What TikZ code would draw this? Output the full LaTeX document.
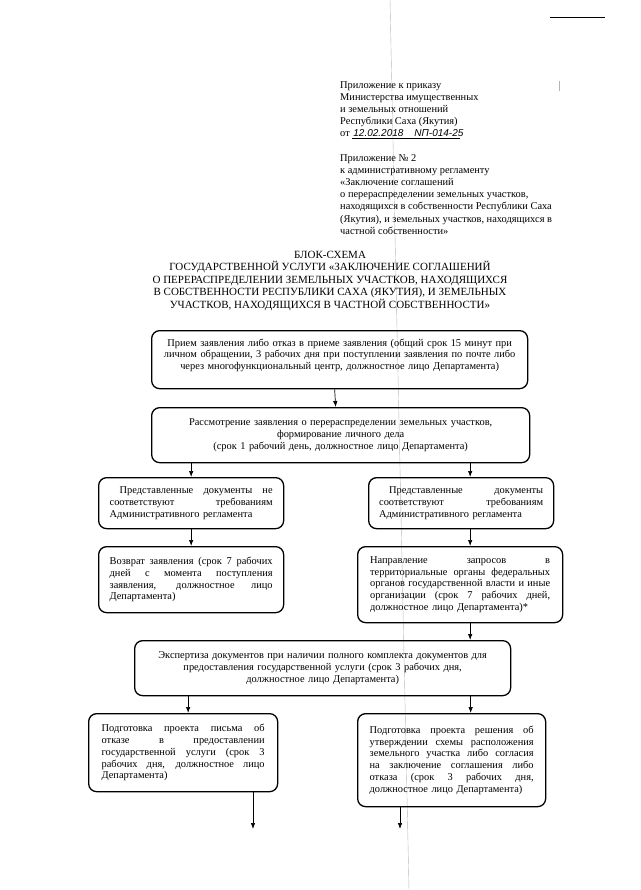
\documentclass[tikz,border=0pt]{standalone}
\usepackage{fontspec}
\setmainfont{Liberation Serif}
\newfontfamily\handfont{Liberation Sans}
\usetikzlibrary{arrows.meta}
\newcommand{\jline}[1]{\makebox[\hsize][s]{\spaceskip=0pt\xspaceskip=0pt #1}}
\begin{document}
\begin{tikzpicture}[x=1pt,y=-1pt,>={Latex[length=6pt,width=4.5pt]},
    txt/.style={inner sep=0pt,font=\fontsize{10.4}{12.2}\selectfont},
    box/.style={draw,line width=1.3pt,rounded corners=8pt,inner sep=0pt,anchor=north west,font=\fontsize{10.4}{11.8}\selectfont},
    flow/.style={->,line width=0.7pt}]
    \useasboundingbox[fill=white] (0,0) rectangle (640,890);
    \draw[gray!55,line width=0.4pt] (390,0) -- (409,890);
    \draw[line width=0.8pt] (550,17) -- (605,17);
    \draw[gray!60,line width=0.6pt] (559,81) -- (559,91);
    \node[txt,anchor=north west,align=left] (prikaz) at (340,81) {Приложение к приказу\\Министерства имущественных\\и земельных отношений\\Республики Саха (Якутия)\\от \underline{\makebox[108pt][l]{\handfont\itshape\fontsize{10}{12}\selectfont\hspace{1pt}12.02.2018\hspace{11pt}NП-014-25}}};
    \node[txt,anchor=north west,align=left] (prilozh) at (340,154) {Приложение № 2\\к административному регламенту\\«Заключение соглашений\\о перераспределении земельных участков,\\находящихся в собственности Республики Саха\\(Якутия), и земельных участков, находящихся в\\частной собственности»};
    \node[txt,anchor=north,align=center,font=\fontsize{11}{12.4}\selectfont] (title) at (330,251) {БЛОК-СХЕМА\\ГОСУДАРСТВЕННОЙ УСЛУГИ «ЗАКЛЮЧЕНИЕ СОГЛАШЕНИЙ\\О ПЕРЕРАСПРЕДЕЛЕНИИ ЗЕМЕЛЬНЫХ УЧАСТКОВ, НАХОДЯЩИХСЯ\\В СОБСТВЕННОСТИ РЕСПУБЛИКИ САХА (ЯКУТИЯ), И ЗЕМЕЛЬНЫХ\\УЧАСТКОВ, НАХОДЯЩИХСЯ В ЧАСТНОЙ СОБСТВЕННОСТИ»};
    \node[box,minimum width=376pt,minimum height=58pt,text width=366pt,align=center] (priem) at (151,330) {Прием заявления либо отказ в приеме заявления (общий срок 15 минут при\\личном обращении, 3 рабочих дня при поступлении заявления по почте либо\\через многофункциональный центр, должностное лицо Департамента)\rule[-11pt]{0pt}{0pt}};
    \node[box,minimum width=378pt,minimum height=55pt,text width=366pt,align=center] (rassm) at (151,407) {Рассмотрение заявления о перераспределении земельных участков,\\формирование личного дела\\(срок 1 рабочий день, должностное лицо Департамента)};
    \node[box,minimum width=185pt,minimum height=51pt,text width=163pt,align=left] (nesoot) at (98,477) {\jline{\hspace{10pt}Представленные документы не}\\\jline{соответствуют требованиям}\\Административного регламента};
    \node[box,minimum width=185pt,minimum height=51pt,text width=164pt,align=left] (soot) at (368,477) {\jline{\hspace{10pt}Представленные документы}\\\jline{соответствуют требованиям}\\Административного регламента};
    \node[box,minimum width=185pt,minimum height=66pt,text width=163pt,align=left] (vozvrat) at (98,546) {\jline{Возврат заявления (срок 7 рабочих}\\\jline{дней с момента поступления}\\\jline{заявления, должностное лицо}\\Департамента)};
    \node[box,minimum width=205pt,minimum height=76pt,text width=180pt,align=left] (napr) at (357,546) {\jline{Направление запросов в}\\\jline{территориальные органы федеральных}\\\jline{органов государственной власти и иные}\\\jline{организации (срок 7 рабочих дней,}\\должностное лицо Департамента)*};
    \node[box,minimum width=376pt,minimum height=55pt,text width=366pt,align=center] (ekspert) at (134,640) {Экспертиза документов при наличии полного комплекта документов для\\предоставления государственной услуги (срок 3 рабочих дня,\\должностное лицо Департамента)};
    \node[box,minimum width=189pt,minimum height=78pt,text width=163pt,align=left] (otkaz) at (88,713) {\jline{Подготовка проекта письма об}\\\jline{отказе в предоставлении}\\\jline{государственной услуги (срок 3}\\\jline{рабочих дня, должностное лицо}\\Департамента)};
    \node[box,minimum width=188pt,minimum height=93pt,text width=164pt,align=left] (reshenie) at (357,713) {\jline{Подготовка проекта решения об}\\\jline{утверждении схемы расположения}\\\jline{земельного участка либо согласия}\\\jline{на заключение соглашения либо}\\\jline{отказа (срок 3 рабочих дня,}\\должностное лицо Департамента)};
    \coordinate (s1) at ([xshift=9pt]soot.north);
    \coordinate (s2) at ([xshift=10pt]napr.south);
    \coordinate (s3) at ([xshift=5pt]otkaz.north);
    \coordinate (s4) at ([xshift=19pt]reshenie.north);
    \coordinate (endL) at (253,829);
    \coordinate (endR) at (400,829);
    \draw[flow] ([xshift=-5pt]priem.south) -- ([xshift=-5pt]rassm.north);
    \draw[flow] (rassm.south -| nesoot.north) -- (nesoot.north);
    \draw[flow] (rassm.south -| s1) -- (s1);
    \draw[flow] (nesoot.south) -- (vozvrat.north);
    \draw[flow] (soot.south -| s1) -- (napr.north -| s1);
    \draw[flow] (s2) -- (s2 |- ekspert.north);
    \draw[flow] (ekspert.south -| s3) -- (s3);
    \draw[flow] (ekspert.south -| s4) -- (s4);
    \draw[flow] (otkaz.south -| endL) -- (endL);
    \draw[flow] (reshenie.south -| endR) -- (endR);
\end{tikzpicture}
\end{document}
